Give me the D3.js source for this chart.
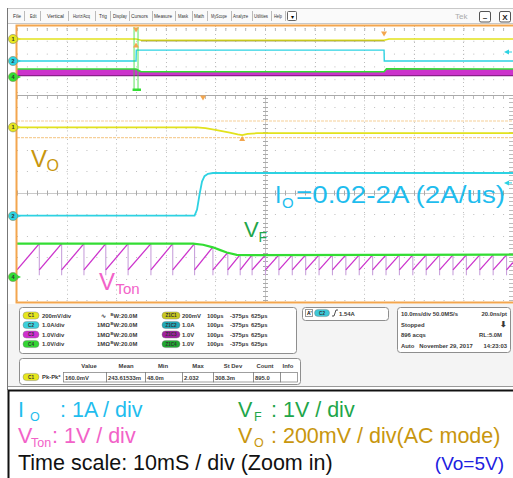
<!DOCTYPE html>
<html>
<head>
<meta charset="utf-8">
<script src="https://cdn.jsdelivr.net/npm/d3@7"></script>
<style>
  html, body { margin: 0; padding: 0; background: #fff; }
  svg { display: block; }
  text { font-family: "Liberation Sans", Arial, sans-serif; }
</style>
</head>
<body>
<svg id="scope" width="513" height="478"></svg>
<script>
// ---------------- data ----------------
const menuItems = ["File", "Edit", "Vertical", "Horiz/Acq", "Trig", "Display", "Cursors",
  "Measure", "Mask", "Math", "MyScope", "Analyze", "Utilities", "Help"];

// zoom window: time in ms across 10 divisions
const ioTime = [0, 35.8, 36.3, 36.8, 37.3, 37.8, 38.5, 39.5, 100];
const ioAmps = [0.02, 0.02, 0.3, 1.0, 1.6, 1.85, 1.96, 2.0, 2.0];

const voTime = [0, 36.3, 38.0, 40.0, 42.9, 44.5, 45.4, 46.5, 48.4, 100];
const voMilli = [0, 0, -8, -25, -50, -65, -72, -62, -55, -55];

const vfTime = [0, 35.5, 37.5, 39.5, 41.0, 42.3, 44.3, 47.0, 100];
const vfVolts = [1.55, 1.55, 1.50, 1.38, 1.25, 1.14, 1.03, 1.02, 1.04];

// V_Ton ramp: each ramp ends (and falls) at tonFall[i] after reaching tonPeak[i]
const tonFall = [4.5, 9.0, 13.5, 17.9, 22.4, 27.0, 31.4, 35.8, 39.5, 42.5, 45.0, 47.4,
  50.1, 52.8, 55.5, 58.2, 60.9, 63.6, 66.3, 69.0, 71.7, 74.4, 77.1, 79.8, 82.5, 85.2,
  87.9, 90.6, 93.3, 96.0, 98.7, 100];
const tonPeak = [1.55, 1.55, 1.55, 1.55, 1.55, 1.55, 1.55, 1.55, 1.40, 1.14, 1.04, 1.03,
  1.03, 1.03, 1.03, 1.03, 1.03, 1.03, 1.03, 1.03, 1.03, 1.03, 1.03, 1.03, 1.03, 1.03,
  1.03, 1.03, 1.03, 1.03, 1.03, 0.68];
const tonBase = 0.33;
const tonFloor = 0.08;

// overview record (10 divisions)
const ovIoTime = [0, 24.0, 24.05, 74.0, 74.05, 100];
const ovIoAmps = [0.02, 0.02, 2.0, 2.0, 0.02, 0.02];
const ovVoTime = [0, 24.0, 25.0, 74.0, 75.0, 100];
const ovVoMilli = [0, 0, -45, -45, 0, 0];
const ovVfTime = [0, 24.0, 25.0, 74.0, 74.5, 100];
const ovVfVolts = [1.55, 1.55, 1.05, 1.05, 1.60, 1.55];

// readouts
const chanIds = ["C1", "C2", "C3", "C4"];
const chanScale = ["200mV/div", "1.0A/div", "1.0V/div", "1.0V/div"];
const chanTerm = ["\u223F", "1M\u03A9", "1M\u03A9", "1M\u03A9"];
const chanBw = ["W:20.0M", "W:20.0M", "W:20.0M", "W:20.0M"];
const zoomIds = ["Z1C1", "Z1C2", "Z1C3", "Z1C4"];
const zoomScale = ["200mV", "1.0A", "1.0V", "1.0V"];
const zoomDiv = ["100\u00B5s", "100\u00B5s", "100\u00B5s", "100\u00B5s"];
const zoomPos = ["-375\u00B5s", "-375\u00B5s", "-375\u00B5s", "-375\u00B5s"];
const zoomEnd = ["625\u00B5s", "625\u00B5s", "625\u00B5s", "625\u00B5s"];
const measHeaders = ["Value", "Mean", "Min", "Max", "St Dev", "Count", "Info"];
const measValues = ["160.0mV", "243.61533m", "48.0m", "2.032", "308.3m", "895.0", ""];
const acqLeft = ["10.0ms/div 50.0MS/s", "Stopped", "896 acqs", "Auto   November 29, 2017"];
const acqRight = ["20.0ns/pt", "\u2B07", "RL:5.0M", "14:23:03"];
const trigLevel = "1.54A";

// ---------------- drawing ----------------
const svg = d3.select("#scope");
const C = {
  yellow: "#e2e21c", cyan: "#2dd2e2", magenta: "#cc33cc", green: "#33dd33",
  fall: "#c9a2dc", orange: "#f3a64e", grid: "#bdbdbd",
  txtCyan: "#1fbdee", txtGreen: "#1fa64a", txtPink: "#f262c8", txtGold: "#c8960e", txtBlue: "#2020e0"
};

// menu bar
const menu = svg.append("g");
menu.append("rect").attr("x", 7.5).attr("y", 8.5).attr("width", 506).attr("height", 15)
  .attr("fill", "#fafafa").attr("stroke", "#c8c8c8");
const menuX = [13, 30, 47, 73, 99, 113, 131, 154, 178, 194, 211, 233, 254, 274];
const menuW = [8, 6.5, 17, 17, 8, 14, 17, 18, 10, 10, 16, 15, 14, 8];
menuItems.forEach((m, i) => {
  menu.append("text").attr("x", menuX[i]).attr("y", 17.8).attr("font-size", 5.6)
    .attr("fill", "#333").attr("textLength", menuW[i]).attr("lengthAdjust", "spacingAndGlyphs").text(m);
});
const sepX = [24.5, 40.5, 68.5, 95.5, 110.5, 129.5, 152.5, 175.5, 192.5, 207.5, 231.5, 252.5, 271.5, 285.5];
sepX.forEach(x => menu.append("line").attr("x1", x).attr("x2", x).attr("y1", 11).attr("y2", 21)
  .attr("stroke", "#bbb"));
menu.append("rect").attr("x", 287.5).attr("y", 11.5).attr("width", 9).attr("height", 9)
  .attr("fill", "#fff").attr("stroke", "#666").attr("rx", 1);
menu.append("text").attr("x", 292).attr("y", 18.5).attr("font-size", 6).attr("text-anchor", "middle").text("\u25BE");
menu.append("text").attr("x", 455).attr("y", 19).attr("font-size", 8).attr("fill", "#aaa").text("Tek");
[[479.5, "\u2013"], [499.5, "X"]].forEach(([x, t]) => {
  menu.append("rect").attr("x", x).attr("y", 11.5).attr("width", 11).attr("height", 10.5)
    .attr("fill", "#fff").attr("stroke", "#555").attr("rx", 1.5);
  menu.append("text").attr("x", x + 5.5).attr("y", 19.8).attr("font-size", 8).attr("font-weight", "bold")
    .attr("text-anchor", "middle").attr("fill", "#222").text(t);
});

// left frame of the whole scope capture
svg.append("line").attr("x1", 7.5).attr("x2", 7.5).attr("y1", 8).attr("y2", 390).attr("stroke", "#777");

// x scale shared by overview and zoom panes
const x = d3.scaleLinear().domain([0, 100]).range([17, 513]);
const minor = (513 - 17) / 50;

// ---- overview pane ----
const ovTop = 26, ovBot = 94;
const ovRows = d3.range(0, 11).map(i => ovTop + 2 + i * 6.4);
const ov = svg.append("g");
ov.selectAll("line.h").data(ovRows.filter((d, i) => i % 2 === 0)).join("line")
  .attr("x1", 17).attr("x2", 513).attr("y1", d => d + 0.5).attr("y2", d => d + 0.5)
  .attr("stroke", C.grid).attr("stroke-dasharray", `1 ${minor - 1}`);
ov.selectAll("line.v").data(d3.range(1, 10)).join("line")
  .attr("x1", d => Math.round(x(d * 10)) + 0.5).attr("x2", d => Math.round(x(d * 10)) + 0.5)
  .attr("y1", ovTop).attr("y2", ovBot).attr("stroke", C.grid).attr("stroke-dasharray", "1 3");
// short tick dashes across overview rows
ov.selectAll("line.t").data(d3.range(0, 50)).join("line")
  .attr("x1", d => 17 + d * minor + 0.5).attr("x2", d => 17 + d * minor + 0.5)
  .attr("y1", 28).attr("y2", 31).attr("stroke", "#bbb");
ov.append("line").attr("x1", 17).attr("x2", 513).attr("y1", 95.5).attr("y2", 95.5).attr("stroke", "#aaa");

const yOvVo = d3.scaleLinear().domain([0, 200]).range([39, 33.5]);
const yOvIo = d3.scaleLinear().domain([0, 1]).range([61.1, 55.6]);
const yOvV4 = d3.scaleLinear().domain([0, 1]).range([77.5, 72]);

// V_Ton band (ramp too dense to resolve) and V_F on top
const ovBand = ovVfTime.map((t, i) => ({ t, v: ovVfVolts[i] }));
ov.append("path").datum(ovBand)
  .attr("d", d3.area().x(d => x(d.t)).y0(yOvV4(tonBase)).y1(d => yOvV4(d.v)))
  .attr("fill", C.magenta);
ov.append("line").attr("x1", 17).attr("x2", 513).attr("y1", yOvV4(tonBase)).attr("y2", yOvV4(tonBase))
  .attr("stroke", "#8a1f8a").attr("stroke-width", 1.2);
ov.append("path").datum(ovBand)
  .attr("d", d3.line().x(d => x(d.t)).y(d => yOvV4(d.v)))
  .attr("fill", "none").attr("stroke", C.green).attr("stroke-width", 1.6);
ov.append("path").datum(ovIoTime.map((t, i) => ({ t, v: ovIoAmps[i] })))
  .attr("d", d3.line().x(d => x(d.t)).y(d => yOvIo(d.v)))
  .attr("fill", "none").attr("stroke", C.cyan).attr("stroke-width", 1.4);
ov.append("path").datum(ovVoTime.map((t, i) => ({ t, v: ovVoMilli[i] })))
  .attr("d", d3.line().x(d => x(d.t)).y(d => yOvVo(d.v)))
  .attr("fill", "none").attr("stroke", C.yellow).attr("stroke-width", 1.6);
ov.append("path").datum(ovVoTime.map((t, i) => ({ t, v: ovVoMilli[i] })).filter(d => d.t >= 25 && d.t <= 74))
  .attr("d", d3.line().x(d => x(d.t)).y(d => yOvVo(d.v) + 0.8))
  .attr("fill", "none").attr("stroke", "#8c8a2a").attr("stroke-width", 0.7);

// zoom box markers in the overview
[x(23.6), x(24.4)].forEach(px => ov.append("line").attr("x1", px).attr("x2", px)
  .attr("y1", 27).attr("y2", 90).attr("stroke", C.green).attr("stroke-width", 0.8));
ov.append("rect").attr("x", x(23.3)).attr("y", 88.5).attr("width", x(25) - x(23.3)).attr("height", 2.5)
  .attr("fill", C.green);

// ---- zoom pane ----
const center = 192.5, div = 21.5;
const rows = d3.range(-4, 6).map(k => center + k * div);
const zp = svg.append("g");
zp.selectAll("line.h").data(rows).join("line")
  .attr("x1", 17).attr("x2", 513).attr("y1", d => Math.round(d) + 0.5).attr("y2", d => Math.round(d) + 0.5)
  .attr("stroke", C.grid).attr("stroke-dasharray", d => d === center ? null : `1 ${minor - 1}`)
  .attr("stroke-opacity", d => d === center ? 0.8 : 1);
zp.selectAll("line.v").data(d3.range(1, 10)).join("line")
  .attr("x1", d => Math.round(x(d * 10)) + 0.5).attr("x2", d => Math.round(x(d * 10)) + 0.5)
  .attr("y1", 96).attr("y2", 302).attr("stroke", C.grid)
  .attr("stroke-dasharray", d => d === 5 ? null : `1 ${div / 5 - 1}`)
  .attr("stroke-opacity", d => d === 5 ? 0.8 : 1);
// minor ticks on the centre lines and edges
const tickXs = d3.range(0, 51).map(i => 17 + i * minor);
const tickYs = d3.range(-22, 28).map(i => center + i * div / 5).filter(v => v > 96 && v < 302);
zp.selectAll("line.tx").data(tickXs).join("line")
  .attr("x1", d => Math.round(d) + 0.5).attr("x2", d => Math.round(d) + 0.5)
  .attr("y1", center - 2).attr("y2", center + 3).attr("stroke", "#aaa");
zp.selectAll("line.tt").data(tickXs).join("line")
  .attr("x1", d => Math.round(d) + 0.5).attr("x2", d => Math.round(d) + 0.5)
  .attr("y1", 96).attr("y2", 99).attr("stroke", "#bbb");
zp.selectAll("line.ty").data(tickYs).join("line")
  .attr("x1", x(50) - 2).attr("x2", x(50) + 3).attr("y1", d => Math.round(d) + 0.5).attr("y2", d => Math.round(d) + 0.5)
  .attr("stroke", "#aaa");
zp.selectAll("line.tr").data(tickYs).join("line")
  .attr("x1", 509).attr("x2", 513).attr("y1", d => Math.round(d) + 0.5).attr("y2", d => Math.round(d) + 0.5)
  .attr("stroke", "#bbb");

const yIo = d3.scaleLinear().domain([0, 1]).range([216, 216 - div]);
const yVo = d3.scaleLinear().domain([0, 200]).range([127.3, 127.3 - div]);
const yV4 = d3.scaleLinear().domain([0, 1]).range([277, 277 - div]);

// measurement cursors
[121, 137.7].forEach(yv => zp.append("line").attr("x1", 17).attr("x2", 513).attr("y1", yv).attr("y2", yv)
  .attr("stroke", "#f6cf98").attr("stroke-width", 1.2).attr("stroke-dasharray", "3 1"));

// V_Ton sawtooth
const ton = zp.append("g");
tonFall.forEach((tEnd, i) => {
  const tStart = i === 0 ? 0 : tonFall[i - 1];
  if (tEnd < 100) {
    ton.append("line").attr("x1", x(tEnd)).attr("x2", x(tEnd))
      .attr("y1", yV4(tonPeak[i])).attr("y2", yV4(tonFloor)).attr("stroke", C.fall).attr("stroke-width", 1.1);
  }
  ton.append("line").attr("x1", x(tStart)).attr("x2", x(tEnd))
    .attr("y1", yV4(tonBase)).attr("y2", yV4(tonPeak[i])).attr("stroke", C.magenta).attr("stroke-width", 1.3);
});

const lineOf = (ts, vs, ys) => d3.line().x(d => x(d[0])).y(d => ys(d[1]))(ts.map((t, i) => [t, vs[i]]));
zp.append("path").attr("d", lineOf(vfTime, vfVolts, yV4)).attr("fill", "none")
  .attr("stroke", C.green).attr("stroke-width", 2.2);
zp.append("path").attr("d", lineOf(ioTime, ioAmps, yIo)).attr("fill", "none")
  .attr("stroke", C.cyan).attr("stroke-width", 1.8);
zp.append("path").attr("d", lineOf(voTime, voMilli, yVo)).attr("fill", "none")
  .attr("stroke", C.yellow).attr("stroke-width", 1.8);

// orange markers
const tri = (cx, cy, down) => {
  const s = down ? 1 : -1;
  return `M${cx - 3},${cy - 2.5 * s}L${cx + 3},${cy - 2.5 * s}L${cx},${cy + 2.5 * s}Z`;
};
[[x(24), 30, true], [x(24), 45, false], [x(74), 34, true], [x(37.5), 98, true], [x(45.4), 138.5, false]]
  .forEach(([cx, cy, d]) => svg.append("path").attr("d", tri(cx, cy, d)).attr("fill", C.orange));
// trigger level pointers
[[52, C.cyan], [yIo(1.54), C.cyan]].forEach(([cy, c]) => {
  svg.append("path").attr("d", `M504,${cy}L509,${cy - 2.5}L509,${cy + 2.5}Z`).attr("fill", c);
  svg.append("line").attr("x1", 508).attr("x2", 512).attr("y1", cy).attr("y2", cy).attr("stroke", c);
});

// orange frame
svg.append("path").attr("d", "M514,25.5 H16.5 V302.5 H514").attr("fill", "none")
  .attr("stroke", C.orange).attr("stroke-width", 2);

// channel markers
const markers = [["1", 39, "#e6e61e"], ["2", 61, C.cyan], ["4", 77, C.green],
  ["1", 127.3, "#e6e61e"], ["2", 216, C.cyan], ["4", 277, C.green]];
markers.forEach(([n, cy, c]) => {
  svg.append("path").attr("d", `M17,${cy - 2}L21,${cy}L17,${cy + 2}Z`).attr("fill", c);
  svg.append("circle").attr("cx", 13).attr("cy", cy).attr("r", 4.6).attr("fill", c).attr("stroke", "#8a8a60").attr("stroke-width", 0.6);
  svg.append("text").attr("x", 13).attr("y", cy + 2).attr("font-size", 5.5).attr("font-weight", "bold")
    .attr("text-anchor", "middle").attr("fill", "#333").text(n);
});

// trace labels
const label = (xp, yp, main, sub, color, fs, sfs, dx, dy) => {
  svg.append("text").attr("x", xp).attr("y", yp).attr("font-size", fs).attr("fill", color).text(main);
  svg.append("text").attr("x", xp + dx).attr("y", yp + dy).attr("font-size", sfs).attr("fill", color).text(sub);
};
label(31, 167, "V", "O", C.txtGold, 24, 16, 15.5, 4);
label(99, 290, "V", "Ton", C.txtPink, 24, 15, 16.5, 4);
label(244, 237, "V", "F", C.txtGreen, 22, 14, 14.5, 5);
label(275, 203, "I", "O", C.txtCyan, 23, 15, 7, 5);
svg.append("text").attr("x", 296).attr("y", 203).attr("font-size", 23).attr("fill", C.txtCyan)
  .attr("textLength", 209).attr("lengthAdjust", "spacingAndGlyphs").text("=0.02-2A (2A/us)");

// ---- readout panel ----
const panel = svg.append("g");
panel.append("rect").attr("x", 8).attr("y", 304).attr("width", 505).attr("height", 82).attr("fill", "#f4f4f4");
const box = (x0, y0, w, h) => panel.append("rect").attr("x", x0 + 0.5).attr("y", y0 + 0.5).attr("width", w)
  .attr("height", h).attr("rx", 3).attr("fill", "#fff").attr("stroke", "#8e8e8e");
box(19, 307, 277, 46);
box(302, 307, 86, 13);
box(397, 307, 113, 45);
box(19, 358, 281, 26);
const chColors = ["#e6e61e", "#3cd0dc", "#d030d0", "#33d633"];
const zColors = ["#c8c820", "#20a8b8", "#a020a0", "#20a830"];
const badge = (cx, cy, w, fill, t) => {
  panel.append("rect").attr("x", cx - w / 2).attr("y", cy - 3.6).attr("width", w).attr("height", 7.2)
    .attr("rx", 3.6).attr("fill", fill).attr("stroke", "#777").attr("stroke-width", 0.4);
  panel.append("text").attr("x", cx).attr("y", cy + 1.8).attr("font-size", 4.6).attr("text-anchor", "middle")
    .attr("fill", "#333").attr("font-weight", "bold").text(t);
};
const small = (xp, yp, t, anchor) => panel.append("text").attr("x", xp).attr("y", yp).attr("font-size", 5.9)
  .attr("font-weight", "bold").attr("fill", "#3a3a3a").attr("text-anchor", anchor || "start").text(t);
const rowY = [315.5, 325, 334.5, 344];
chanIds.forEach((id, i) => {
  const cy = rowY[i];
  badge(31, cy, 16, chColors[i], id);
  small(42, cy + 2.2, chanScale[i]);
  small(i === 0 ? 101 : 97, cy + 2.2, chanTerm[i]);
  panel.append("text").attr("x", 110.5).attr("y", cy).attr("font-size", 4).attr("font-weight", "bold").attr("fill", "#3a3a3a").text("B");
  small(113.5, cy + 2.2, chanBw[i]);
  badge(171, cy, 18, zColors[i], zoomIds[i]);
  small(182, cy + 2.2, zoomScale[i]);
  small(207, cy + 2.2, zoomDiv[i]);
  small(230, cy + 2.2, zoomPos[i]);
  small(251, cy + 2.2, zoomEnd[i]);
});
// trigger readout
panel.append("rect").attr("x", 305.5).attr("y", 309.5).attr("width", 7).attr("height", 7).attr("fill", "#fff").attr("stroke", "#999");
panel.append("text").attr("x", 307).attr("y", 315).attr("font-size", 5).attr("font-weight", "bold").text("A'");
badge(322, 313, 15, "#3cc8d8", "C2");
panel.append("path").attr("d", "M332,316 L334,316 L336,310 L338,310").attr("fill", "none").attr("stroke", "#222").attr("stroke-width", 0.8);
small(339, 315.5, trigLevel);
// acquisition readout
const acqY = [315.5, 326.5, 337, 347.5];
acqLeft.forEach((t, i) => small(401, acqY[i], t).attr("xml:space", "preserve"));
acqRight.forEach((t, i) => small(i === 2 ? 502 : 507, acqY[i], t, "end").attr("font-size", i === 1 ? 8 : 5.9));
// measurement table
const headX = [89, 126, 163, 198, 233, 265, 288];
measHeaders.forEach((h, i) => small(headX[i], 367.5, h, "middle"));
badge(31, 377, 16, "#e6e61e", "C1");
small(42, 379.2, "Pk-Pk*");
const cellX = [63, 106, 145, 182, 213, 253, 280, 297];
measValues.forEach((v, i) => {
  panel.append("rect").attr("x", cellX[i] + 0.5).attr("y", 372.5).attr("width", cellX[i + 1] - cellX[i])
    .attr("height", 9.5).attr("fill", "#fff").attr("stroke", "#777").attr("stroke-width", 0.7);
  small(cellX[i] + 2, 379.6, v);
});
panel.append("line").attr("x1", 8).attr("x2", 513).attr("y1", 386.5).attr("y2", 386.5).attr("stroke", "#999");

// ---- caption ----
const cap = svg.append("g");
cap.append("path").attr("d", "M8.5,478 V390.5 H513").attr("fill", "none").attr("stroke", "#111").attr("stroke-width", 2);
const capText = (xp, yp, t, c, fs, anchor) => cap.append("text").attr("x", xp).attr("y", yp).attr("font-size", fs || 21.5)
  .attr("fill", c).attr("text-anchor", anchor || "start").attr("xml:space", "preserve").text(t);
capText(18, 417, "I", C.txtCyan); capText(30, 421, "O", C.txtCyan, 12.5); capText(60, 417, ": 1A / div", C.txtCyan);
capText(238, 417, "V", C.txtGreen); capText(254, 421, "F", C.txtGreen, 12.5); capText(271, 417, ": 1V / div", C.txtGreen);
capText(18, 443, "V", C.txtPink); capText(31, 447, "Ton", C.txtPink, 12.5); capText(52, 443, ": 1V / div", C.txtPink);
capText(238, 443, "V", C.txtGold); capText(254, 447, "O", C.txtGold, 12.5); capText(271, 443, ": 200mV / div(AC mode)", C.txtGold);
capText(18, 470, "Time scale: 10mS / div (Zoom in)", "#111");
capText(504, 470, "(Vo=5V)", C.txtBlue, 19, "end");
</script>
</body>
</html>
